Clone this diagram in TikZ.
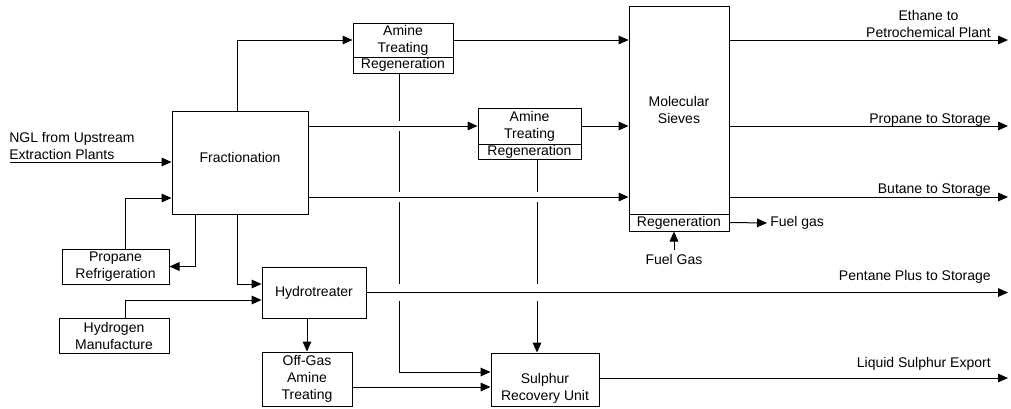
\documentclass[tikz,border=0pt]{standalone}
\usepackage{fontspec}
\setmainfont{Liberation Sans}
\usetikzlibrary{arrows.meta}
\newcommand\bx[6]{\node[box,minimum width={(#4-#2)*0.75pt},minimum height={(#5-#3)*0.75pt}] (#1) at ({(#2+#4)/2},{(#3+#5)/2}) {#6};}
\begin{document}
\begin{tikzpicture}[x=0.75pt,y=-0.75pt,
  font=\fontsize{10.5}{12.75}\selectfont,
  box/.style={draw,line width=0.75pt,inner sep=0pt,align=center,rectangle},
  arr/.style={line width=0.75pt,-{Triangle[length=7.5pt,width=6.5pt]}},
  jump/.style={preaction={draw=white,line width=#1,arrows=-,shorten <=3pt,shorten >=10pt}},
  lbl/.style={inner sep=0pt,align=center}]
\useasboundingbox (0,0) rectangle (1011,408);

% boxes
\bx{frac}{172}{111}{308}{214}{\raisebox{7pt}{Fractionation}}
\bx{propref}{62}{249}{169}{284}{Propane\\Refrigeration}
\bx{hydro}{262}{267}{366}{318}{Hydrotreater}
\bx{htwo}{59}{318}{169}{353}{Hydrogen\\Manufacture}
\bx{offgas}{262}{352}{352}{406}{Off-Gas\\Amine\\Treating}
\bx{sru}{491}{353}{599}{406}{}
\node[lbl] (srut) at (545,388) {Sulphur\\Recovery Unit};
\bx{am1}{353}{23}{453}{57}{Amine\\Treating}
\bx{am1r}{353}{57}{453}{73}{Regeneration}
\bx{am2}{478}{108}{581}{144}{Amine\\Treating}
\bx{am2r}{478}{144}{581}{159}{Regeneration}
\bx{ms}{629}{6}{729}{214}{Molecular\\Sieves}
\bx{msr}{629}{214}{729}{231}{Regeneration}

% helper coordinates
\coordinate (x125) at (125,0);
\coordinate (x195) at (195,0);
\coordinate (x237) at (237,0);
\coordinate (x399) at (399,0);
\coordinate (x537) at (537,0);
\coordinate (xend) at (1008,0);
\coordinate (y197) at (0,197);
\coordinate (y198) at (0,198);
\coordinate (y284) at (0,284);
\coordinate (y300) at (0,300);
\coordinate (y372) at (0,372);
\coordinate (y378) at (0,378);
\coordinate (y387) at (0,387);
\coordinate (ngl) at (10,162);
\coordinate (fgo) at (767,223);

% regeneration lines (drawn first, crossed by gaps)
\draw[arr] (am1r.south -| x399) |- (sru.west |- y372);
\draw[arr] (am2r.south -| x537) -- (sru.north -| x537);

% feed
\draw[arr] (ngl) -- (ngl -| frac.west);
\node[lbl,anchor=west,align=left] (ngltxt) at (9,146) {NGL from Upstream\\Extraction Plants};

% fractionation connections
\draw[arr] (frac.north -| x237) |- (am1.west);
\draw[arr,jump=7.5pt] (frac.east |- am2.west) -- (am2.west);
\draw[arr,jump=7.5pt] (frac.east |- y197) -- (ms.west |- y197);
\draw[arr] (am1.east) -- (am1.east -| ms.west);
\draw[arr] (am2.east) -- (am2.east -| ms.west);
\draw[arr] (propref.north -| x125) |- (frac.west |- y198);
\draw[arr] (frac.south -| x195) |- (propref.east);
\draw[arr] (frac.south -| x237) |- (hydro.west |- y284);
\draw[arr] (htwo.north -| x125) |- (hydro.west |- y300);
\draw[arr] (hydro.south -| offgas.north) -- (offgas.north);
\draw[arr,jump=13pt] (hydro.east) -- (hydro.east -| xend);
\draw[arr] (offgas.east |- y387) -- (sru.west |- y387);
\draw[arr] (sru.east |- y378) -- (xend |- y378);

% molecular sieve outputs
\draw[arr] (ms.east |- am1.east) -- (xend |- am1.east);
\draw[arr] (ms.east |- am2.east) -- (xend |- am2.east);
\draw[arr] (ms.east |- y197) -- (xend |- y197);
\draw[arr] (msr.east) -- (fgo);
\node[lbl,anchor=west] (fgouttxt) at (770,223) {Fuel gas};
\node[inner sep=3pt,anchor=base] (fgin) at (674,264) {Fuel Gas};
\draw[arr] (fgin.north) -- (fgin.north |- msr.south);

% output labels
\node[lbl,anchor=east] (ethane) at (991,24) {Ethane to\\Petrochemical Plant};
\node[lbl,anchor=base east] (propane) at (991,123) {Propane to Storage};
\node[lbl,anchor=base east] (butane) at (991,193) {Butane to Storage};
\node[lbl,anchor=base east] (pentane) at (991,280) {Pentane Plus to Storage};
\node[lbl,anchor=base east] (sulphur) at (991,367) {Liquid Sulphur Export};
\end{tikzpicture}
\end{document}
